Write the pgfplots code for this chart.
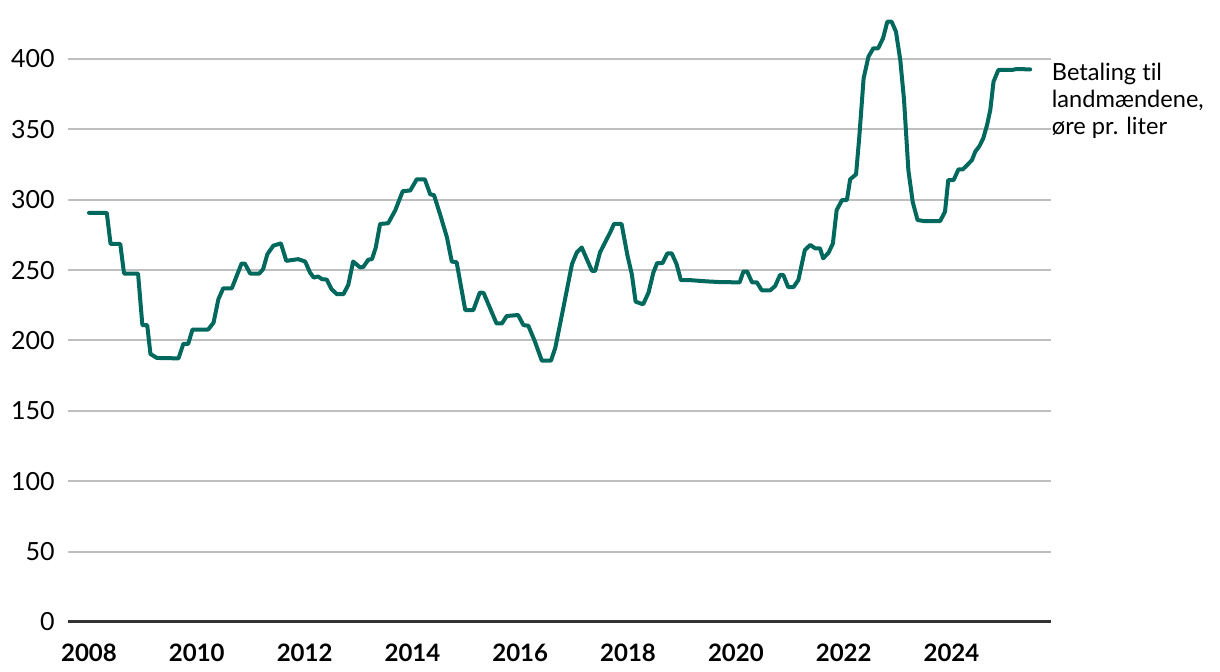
\documentclass[border=0pt]{standalone}
\usepackage{fontspec}
\setmainfont{Lato}[Ligatures={NoCommon,NoContextual}]
\usepackage{pgfplots}
\pgfplotsset{compat=1.18}
\definecolor{linecol}{RGB}{0,104,92}
\definecolor{gridcol}{RGB}{191,191,191}
\definecolor{axcol}{RGB}{51,51,51}
\begin{document}
\begin{tikzpicture}
\useasboundingbox (-34.15pt,-25pt) rectangle (575.85pt,311pt);
\begin{axis}[
  at={(0,0)}, anchor=south west,
  scale only axis,
  width=491.1pt, height=302.6pt,
  xmin=2007.616, xmax=2025.837,
  ymin=0, ymax=430,
  axis line style={draw=none},
  xtick={2008,2010,...,2024},
  ytick={0,50,...,400},
  xticklabel={\pgfmathprintnumber[1000 sep={}]{\tick}},
  /pgf/number format/assume math mode=true,
  /pgf/number format/1000 sep={},
  major tick length=0pt,
  tick style={draw=none},
  ymajorgrids,
  grid style={draw=gridcol, line width=1pt},
  xticklabel style={anchor=north, inner sep=0pt, yshift=-11pt, font=\fontsize{12}{14}\selectfont\bfseries},
  yticklabel style={anchor=east, inner sep=0pt, xshift=-6.6pt, font=\fontsize{12.5}{14}\selectfont},
  clip=false,
]
\draw[axcol, line width=1.5pt] (axis cs:2007.616,0) -- (axis cs:2025.837,0);
\addplot[linecol, line width=2pt, line join=round, line cap=round] coordinates {
(2008.00,290.7) (2008.33,290.7) (2008.40,268.6) (2008.58,268.6) (2008.65,247.6) (2008.91,247.6)
(2008.99,210.9) (2009.08,210.9) (2009.14,190.4) (2009.26,187.6) (2009.66,187.3) (2009.75,197.6)
(2009.84,197.6) (2009.92,207.8) (2010.21,207.8) (2010.31,212.6) (2010.40,229.3) (2010.49,237.1)
(2010.65,237.1) (2010.83,254.7) (2010.89,254.7) (2010.99,247.6) (2011.16,247.6) (2011.23,250.7)
(2011.31,261.4) (2011.42,267.4) (2011.56,269.0) (2011.66,256.6) (2011.88,257.8) (2012.01,256.1)
(2012.10,248.3) (2012.17,244.7) (2012.25,245.5) (2012.32,243.6) (2012.41,243.3) (2012.50,236.4)
(2012.60,232.9) (2012.72,232.9) (2012.81,239.5) (2012.90,256.1) (2013.03,251.9) (2013.09,252.3)
(2013.18,257.4) (2013.25,257.8) (2013.32,266.1) (2013.40,282.8) (2013.55,283.3) (2013.68,292.4)
(2013.82,306.1) (2013.96,306.6) (2014.08,314.5) (2014.23,314.5) (2014.33,303.8) (2014.40,303.3)
(2014.51,290.0) (2014.64,273.3) (2014.73,256.1) (2014.82,255.6) (2014.98,221.6) (2015.13,221.6)
(2015.25,234.1) (2015.32,233.8) (2015.56,212.1) (2015.66,212.1) (2015.75,217.4) (2015.96,218.1)
(2016.06,210.9) (2016.15,210.5) (2016.27,199.5) (2016.40,185.7) (2016.57,185.7) (2016.65,194.7)
(2016.80,223.3) (2016.96,254.3) (2017.05,262.6) (2017.14,266.1) (2017.33,249.5) (2017.39,249.5)
(2017.48,262.6) (2017.67,276.9) (2017.74,282.8) (2017.88,282.8) (2017.99,260.2) (2018.07,247.1)
(2018.14,227.6) (2018.28,225.7) (2018.38,234.1) (2018.47,248.3) (2018.54,255.0) (2018.64,255.0)
(2018.73,261.9) (2018.81,261.9) (2018.90,254.3) (2018.98,242.9) (2019.15,242.9) (2019.46,242.0)
(2019.71,241.5) (2020.07,241.3) (2020.14,249.0) (2020.21,249.0) (2020.30,241.3) (2020.39,241.3)
(2020.48,235.7) (2020.64,235.7) (2020.73,238.8) (2020.82,246.6) (2020.88,246.6) (2020.97,238.0)
(2021.07,238.0) (2021.16,243.0) (2021.28,264.3) (2021.38,267.9) (2021.47,265.5) (2021.56,265.5)
(2021.62,258.4) (2021.72,262.4) (2021.80,269.0) (2021.87,292.7) (2021.97,299.8) (2022.06,299.8)
(2022.12,314.5) (2022.23,318.1) (2022.29,344.8) (2022.37,386.3) (2022.46,401.7) (2022.55,407.6)
(2022.64,407.6) (2022.73,414.7) (2022.81,426.5) (2022.89,426.5) (2022.97,419.4) (2023.05,399.3)
(2023.12,370.9) (2023.20,321.1) (2023.28,298.6) (2023.37,285.6) (2023.48,284.9) (2023.79,284.9)
(2023.88,291.5) (2023.94,314.0) (2024.04,314.0) (2024.13,321.6) (2024.21,321.6) (2024.31,325.4)
(2024.38,328.2) (2024.44,334.1) (2024.52,338.2) (2024.59,343.7) (2024.66,353.1) (2024.72,363.8)
(2024.78,383.9) (2024.87,392.2) (2025.12,392.2) (2025.21,392.9) (2025.46,392.6)
};
\node[anchor=north west, inner sep=0pt, xshift=0.5pt, align=left,
  font=\fontsize{11.8}{13.6}\selectfont] at (axis cs:2025.837,397.5)
  {Betaling til\\landmændene,\\øre pr. liter};
\end{axis}
\end{tikzpicture}
\end{document}
